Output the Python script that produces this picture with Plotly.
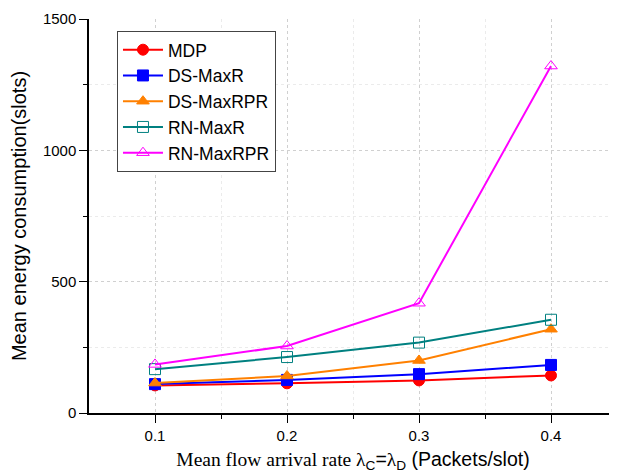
import plotly.graph_objects as go

x_vals = [0.1, 0.2, 0.3, 0.4]
mdp = [105, 113, 124, 143]
ds_maxr = [110, 126, 148, 183]
ds_maxrpr = [114, 141, 200, 319]
rn_maxr = [167, 213, 268, 355]
rn_maxrpr = [185, 255, 418, 1321]

series = [
    ("MDP", mdp, "#ff0000", "circle"),
    ("DS-MaxR", ds_maxr, "#0000ff", "square"),
    ("DS-MaxRPR", ds_maxrpr, "#ff8000", "triangle-up"),
    ("RN-MaxR", rn_maxr, "#008080", "square-open"),
    ("RN-MaxRPR", rn_maxrpr, "#ff00ff", "triangle-up-open"),
]

fig = go.Figure()
for name, ys, color, sym in series:
    fig.add_trace(go.Scatter(
        x=x_vals, y=ys, name=name, mode="lines+markers",
        line=dict(color=color, width=2),
        marker=dict(symbol=sym, size=11, color=color,
                    line=dict(color=color, width=1)),
    ))

fig.update_layout(
    width=609, height=467,
    margin=dict(l=81, r=0, t=11, b=62),
    plot_bgcolor="white", paper_bgcolor="white",
    font=dict(family="Liberation Sans, Arial", size=15, color="black"),
    legend=dict(
        x=0.053, y=0.97, xanchor="left", yanchor="top",
        bordercolor="#444444", borderwidth=1, bgcolor="white",
        font=dict(size=17.5), tracegroupgap=0, itemwidth=40,
    ),
    showlegend=True,
)

fig.update_xaxes(
    range=[0.05, 0.45], tickvals=[0.1, 0.2, 0.3, 0.4], ticktext=["0.1", "0.2", "0.3", "0.4"],
    showline=True, linecolor="black", linewidth=1.5,
    ticks="outside", ticklen=8, tickcolor="black",
    showgrid=True, gridcolor="#d0d0d0", griddash="dot", gridwidth=1,
    minor=dict(tickvals=[0.15, 0.25, 0.35], ticks="outside", ticklen=4, tickcolor="black",
               showgrid=True, gridcolor="#ebebeb", gridwidth=1),
    zeroline=False, automargin=False,
    title=dict(
        text="<span style='font-family:Liberation Serif, Times New Roman'>Mean flow arrival rate λ</span><sub>C</sub>=<span style='font-family:Liberation Serif, Times New Roman'>λ</span><sub>D</sub> (Packets/slot)",
        font=dict(size=19.5), standoff=10,
    ),
    tickfont=dict(size=15),
)

fig.update_yaxes(
    range=[0, 1500], tickvals=[0, 500, 1000, 1500],
    showline=True, linecolor="black", linewidth=1.5,
    ticks="outside", ticklen=8, tickcolor="black",
    showgrid=True, gridcolor="#d0d0d0", griddash="dot", gridwidth=1,
    minor=dict(tickvals=[250, 750, 1250], ticks="outside", ticklen=4, tickcolor="black",
               showgrid=True, gridcolor="#ebebeb", gridwidth=1),
    zeroline=False, automargin=False,
    title=dict(text="Mean energy consumption(slots)", font=dict(size=20), standoff=12),
    tickfont=dict(size=15),
)

fig.write_html("out.html")
